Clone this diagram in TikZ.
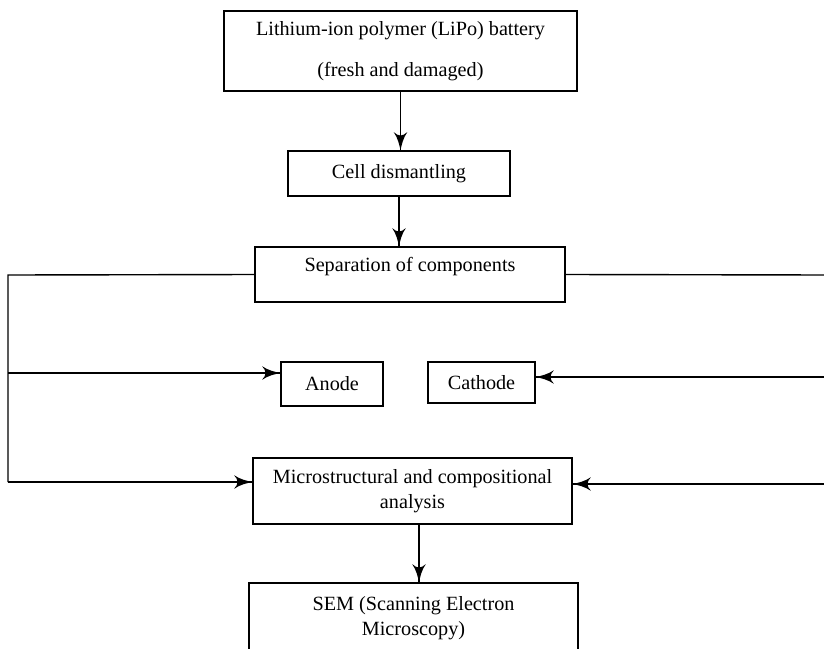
\documentclass[tikz,border=0pt]{standalone}
\usepackage{fontspec}
\setmainfont{Liberation Serif}
\usetikzlibrary{arrows}
\usetikzlibrary{decorations.markings}
\tikzset{flow/.style = {decoration={markings,
                                    mark=at position 1 with {\arrow[scale=2.6]{latex'}}},
                        postaction={decorate}}}
\tikzset{box/.style = {draw, rectangle, align = center, inner sep = 0,
                       font = \fontsize{20.2}{24.5}\selectfont}}

\begin{document}
\begin{tikzpicture}[x = 1pt, y = -1pt, line width = 1.4pt]
    \useasboundingbox (0, 0) rectangle (824, 648);

    \node [box, minimum width = 353, minimum height = 80] (battery) at (400.5, 51)
        {Lithium-ion polymer (LiPo) battery\\[17pt](fresh and damaged)};
    \node [box, minimum width = 222, minimum height = 45] (dismantle) at (399, 173.5)
        {Cell dismantling};
    \node [box, minimum width = 310, minimum height = 55] (separate) at (410, 274.5)
        {Separation of components\\[-4pt]\mbox{}};
    \node [box, minimum width = 102, minimum height = 44] (anode) at (332, 384) {Anode};
    \node [box, minimum width = 107, minimum height = 41] (cathode) at (481.5, 382.5) {Cathode};
    \node [box, minimum width = 319, minimum height = 66] (micro) at (412.5, 491)
        {Microstructural and compositional\\[1pt]analysis};
    \node [box, minimum width = 329, minimum height = 70] (sem) at (413.5, 618)
        {SEM (Scanning Electron\\[0pt]Microscopy)};

    % side rails
    \coordinate (lft) at (8, 275);
    \coordinate (alft) at (8, 373);
    \coordinate (mlft) at (8, 482);
    \coordinate (rgt) at (830, 275);
    \coordinate (crgt) at (830, 377);
    \coordinate (mrgt) at (830, 484);

    \draw [flow] (battery.south) -- (battery.south |- dismantle.north);
    \draw [flow] (dismantle.south) -- (dismantle.south |- separate.north);

    \draw (separate.west) -- (lft) -- (mlft);
    \draw [flow] (alft) -- (alft -| anode.west);
    \draw [flow] (mlft) -- (mlft -| micro.west);

    \draw (separate.east) -- (rgt) -- (mrgt);
    \draw [flow] (crgt) -- (crgt -| cathode.east);
    \draw [flow] (mrgt) -- (mrgt -| micro.east);

    \draw [flow] ([xshift=6.5pt]micro.south) -- ([xshift=6.5pt]micro.south |- sem.north);
\end{tikzpicture}
\end{document}
